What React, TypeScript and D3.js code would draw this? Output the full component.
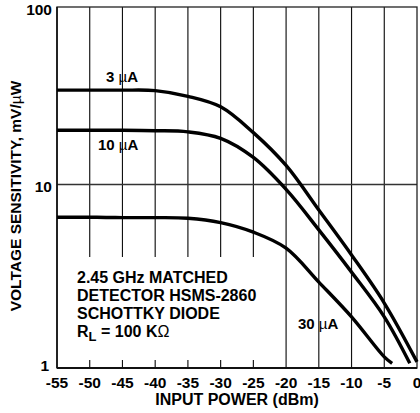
import React from 'react';
import * as d3 from 'd3';

// values: [input power dBm, sensitivity mV/uW]
const curve3uA: [number, number][] = [
  [-55, 34], [-50, 34], [-45, 34], [-40, 33.8], [-35, 31.4], [-30, 27.4],
  [-25, 19.6], [-20, 12.8], [-15, 7.26], [-10, 4.13], [-5, 2.26], [0, 1.08],
];
const curve10uA: [number, number][] = [
  [-55, 20.2], [-50, 20.2], [-45, 20.2], [-40, 20.1], [-35, 19.8], [-30, 18.2],
  [-25, 14.2], [-20, 9.4], [-15, 5.66], [-10, 3.33], [-5, 1.9], [-1.1, 1.06],
];
const curve30uA: [number, number][] = [
  [-55, 6.63], [-50, 6.63], [-45, 6.6], [-40, 6.6], [-35, 6.55], [-30, 6.2],
  [-25, 5.5], [-20, 4.5], [-15, 2.94], [-10, 1.9], [-5, 1.15], [-3.8, 1.06],
];

const xTicks = [-55, -50, -45, -40, -35, -30, -25, -20, -15, -10, -5, 0];
const yTicks = [1, 10, 100];
const noteLines = ['2.45 GHz MATCHED', 'DETECTOR HSMS-2860', 'SCHOTTKY DIODE'];

const W = 420;
const H = 413;
const pLeft = 57, pRight = 417, pTop = 7, pBottom = 368;
const font = 'Liberation Sans, Arial, Helvetica, sans-serif';

const App: React.FC = () => {
  const x = d3.scaleLinear().domain([-55, 0]).range([pLeft, pRight]);
  const y = d3.scaleLog().domain([1, 10, 100]).range([pBottom, 184.5, pTop]);

  const line = d3.line<[number, number]>()
    .x(d => x(d[0]))
    .y(d => y(d[1]))
    .curve(d3.curveCatmullRom.alpha(0.5));

  const series = [curve3uA, curve10uA, curve30uA];
  const inner = xTicks.slice(1, -1);

  return (
    <svg width={W} height={H} style={{ position: 'absolute', left: 0, top: 0, background: '#fff' }}
      fontFamily={font} fontWeight="bold">
      {/* grid: full lines, cut above the note panel on the left */}
      {inner.map(t => (
        <line key={'gu' + t} x1={x(t)} x2={x(t)} y1={pTop} y2={t > -22 ? pBottom : 257}
          stroke="#111" strokeWidth={1.15} />
      ))}
      {/* tick stubs under the note panel */}
      {inner.filter(t => t < -22).map(t => (
        <line key={'gs' + t} x1={x(t)} x2={x(t)} y1={360} y2={pBottom}
          stroke="#111" strokeWidth={1.15} />
      ))}
      <line x1={pLeft} x2={pRight} y1={y(10)} y2={y(10)} stroke="#333" strokeWidth={1.3} />

      {/* frame */}
      <rect x={pLeft} y={pTop} width={pRight - pLeft} height={pBottom - pTop} fill="none" stroke="#222" strokeWidth={1.3} />
      <line x1={pLeft} x2={pRight} y1={pBottom} y2={pBottom} stroke="#111" strokeWidth={2} />
      <line x1={pLeft} x2={pLeft} y1={pTop} y2={pBottom} stroke="#111" strokeWidth={1.6} />

      {/* curves */}
      {series.map((s, i) => (
        <path key={i} d={line(s) || ''} fill="none" stroke="#000" strokeWidth={3.4} />
      ))}

      {/* curve labels */}
      <text x={106} y={82} fontSize={15}>3 <tspan fontWeight="normal">µ</tspan>A</text>
      <text x={98} y={150} fontSize={15}>10 <tspan fontWeight="normal">µ</tspan>A</text>
      <text x={298} y={329} fontSize={15}>30 <tspan fontWeight="normal">µ</tspan>A</text>

      {/* note */}
      {noteLines.map((t, i) => (
        <text key={t} x={77} y={283 + i * 18} fontSize={16}>{t}</text>
      ))}
      <text x={77} y={337} fontSize={16}>
        R<tspan fontSize={13} dy={4}>L</tspan><tspan dy={-4}> = 100 K</tspan><tspan fontWeight="normal">Ω</tspan>
      </text>

      {/* x tick labels */}
      {xTicks.map(t => (
        <text key={'xt' + t} x={x(t)} y={388} fontSize={15.5} textAnchor="middle">{t}</text>
      ))}
      <text x={237} y={405} fontSize={16} textAnchor="middle">INPUT POWER (dBm)</text>

      {/* y tick labels */}
      <text x={52} y={15} fontSize={15.5} textAnchor="end">{yTicks[2]}</text>
      <text x={52} y={192} fontSize={15.5} textAnchor="end">{yTicks[1]}</text>
      <text x={49} y={371} fontSize={15.5} textAnchor="end">{yTicks[0]}</text>

      <text transform="translate(21,196) rotate(-90)" fontSize={15.5} textAnchor="middle">
        VOLTAGE SENSITIVITY, mV/<tspan fontWeight="normal">µ</tspan>W
      </text>
    </svg>
  );
};

export default App;
